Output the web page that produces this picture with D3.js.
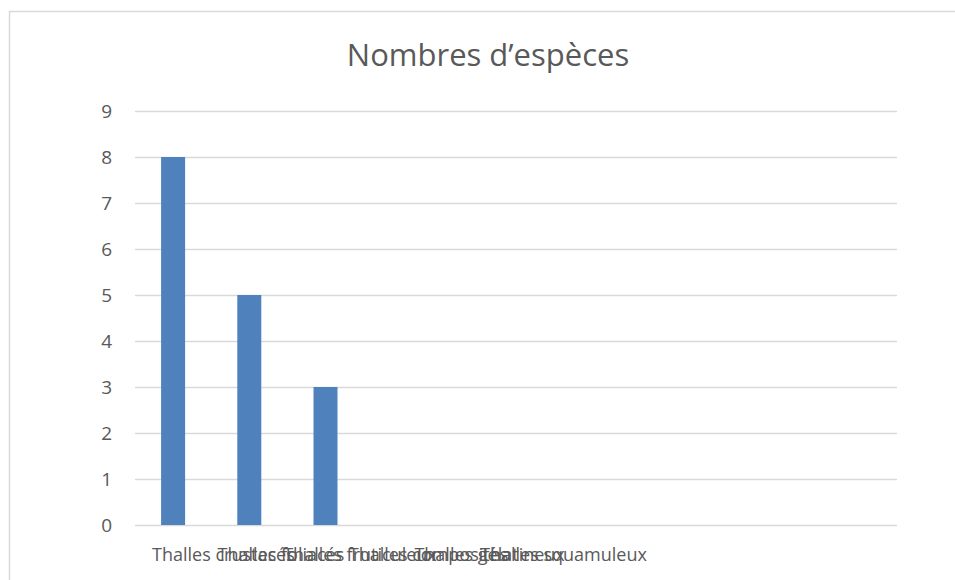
<!DOCTYPE html>
<html><head><meta charset="utf-8">
<script src="https://cdn.jsdelivr.net/npm/d3@7"></script>
<style>body{margin:0;background:#fff;}svg{display:block;}</style>
</head><body>
<svg id="c" width="955" height="580"></svg>
<script>
const title = "Nombres d’espèces";
const categories = ["Thalles crustacés","Thalles foliacés","Thalles fruticuleux","Thalles composites","Thalles gélatineux","Thalles squamuleux"];
const values = [8,5,3,0,0,0];
const slots = ["1","2","3","4","5","6","7","8","9","10"];
const yTicks = [0,1,2,3,4,5,6,7,8,9];

const svg = d3.select("#c");
const font = "'Open Sans', 'Noto Sans', sans-serif";
const textColor = "#595959";

// chart border (extends beyond the viewport on right/bottom)
svg.append("rect").attr("x",9.5).attr("y",11.5).attr("width",2000).attr("height",2000)
  .attr("fill","none").attr("stroke","#d9d9d9").attr("stroke-width",1.5);

const x = d3.scaleBand().domain(slots).range([135,897]).paddingInner(0.685).paddingOuter(0.3425);
const y = d3.scaleLinear().domain([0,9]).range([525,111]);

// gridlines
svg.append("g").selectAll("line").data(yTicks).join("line")
  .attr("x1",135).attr("x2",897)
  .attr("y1",d=>Math.round(y(d))+0.5).attr("y2",d=>Math.round(y(d))+0.5)
  .attr("stroke","#d9d9d9").attr("stroke-width",1.5);

// y labels
svg.append("g").selectAll("text").data(yTicks).join("text")
  .attr("x",112).attr("y",d=>y(d)).attr("dy","0.36em")
  .attr("text-anchor","end").attr("font-family",font).attr("font-size",19)
  .attr("fill",textColor).text(d=>d);

// bars
svg.append("g").selectAll("rect").data(values.map((v,i)=>({v,s:slots[i]}))).join("rect")
  .attr("x",d=>x(d.s)).attr("width",x.bandwidth())
  .attr("y",d=>y(d.v)).attr("height",d=>y(0)-y(d.v))
  .attr("fill","#4f81bd");

// x labels (overlapping as in reference)
const xl = d3.scalePoint().domain(categories).range([152,480]);
svg.append("g").selectAll("text").data(categories).join("text")
  .attr("x",d=>xl(d)).attr("y",561)
  .attr("text-anchor","start").attr("font-family",font).attr("font-size",18)
  .attr("fill",textColor).text(d=>d);

// title
svg.append("text").attr("x",488).attr("y",66).attr("text-anchor","middle")
  .attr("font-family",font).attr("font-size",31).attr("fill",textColor).text(title);
</script>
</body></html>
